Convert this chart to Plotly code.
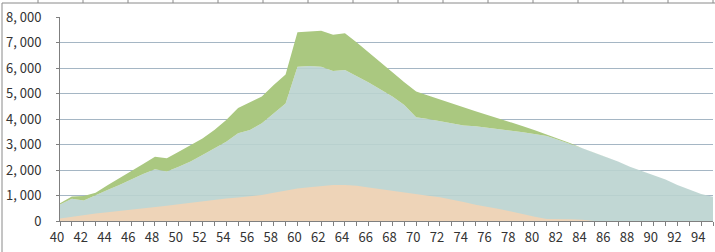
import plotly.graph_objects as go

ages = list(range(40, 96))

total_green = [700, 960, 980, 1110, 1400, 1670, 1970, 2240, 2520, 2460,
               2720, 2980, 3240, 3570, 3960, 4430, 4640, 4880, 5330, 5750,
               7400, 7430, 7460, 7300, 7360, 7000, 6620, 6220, 5830, 5440,
               5080, 4920, 4760, 4600, 4450, 4300, 4160, 4020, 3870, 3720,
               3560, 3400, 3230, 3050, 2850, 2680, 2520, 2330, 2130, 1960,
               1800, 1630, 1410, 1220, 1060, 950]

middle_blue = [650, 870, 800, 1020, 1220, 1410, 1630, 1840, 2030, 1940,
               2130, 2330, 2590, 2850, 3110, 3440, 3570, 3830, 4220, 4610,
               6050, 6080, 6050, 5880, 5920, 5690, 5430, 5160, 4880, 4550,
               4070, 4000, 3920, 3830, 3750, 3720, 3670, 3600, 3540, 3480,
               3410, 3330, 3180, 3000, 2850, 2680, 2520, 2330, 2130, 1960,
               1800, 1630, 1410, 1220, 1060, 950]

bottom_peach = [100, 170, 230, 290, 340, 390, 430, 490, 540, 600,
                660, 720, 770, 820, 880, 920, 960, 1020, 1110, 1190,
                1270, 1320, 1370, 1410, 1410, 1380, 1310, 1240, 1180, 1110,
                1050, 990, 930, 850, 750, 640, 560, 470, 370, 260,
                170, 80, 80, 70, 50, 0, 0, 0, 0, 0,
                0, 0, 0, 0, 0, 0]

y_ticks = [0, 1000, 2000, 3000, 4000, 5000, 6000, 7000, 8000]
y_tick_labels = ["0", "1, 000", "2, 000", "3, 000", "4, 000", "5, 000", "6, 000", "7, 000", "8, 000"]
x_ticks = list(range(40, 96, 2))

fig = go.Figure()
fig.add_trace(go.Scatter(x=ages, y=middle_blue, mode="lines", line=dict(width=0),
                         fill="tozeroy", fillcolor="rgba(186,211,207,0.9)", hoverinfo="skip"))
fig.add_trace(go.Scatter(x=ages, y=total_green, mode="lines", line=dict(width=0),
                         fill="tonexty", fillcolor="rgb(170,200,128)", hoverinfo="skip"))
fig.add_trace(go.Scatter(x=ages, y=bottom_peach, mode="lines", line=dict(width=0),
                         fill="tozeroy", fillcolor="rgb(238,212,184)", hoverinfo="skip"))

font_family = "Noto Sans CJK JP, Noto Sans, sans-serif"

fig.update_layout(
    width=715, height=252,
    margin=dict(l=60, r=2, t=17, b=31),
    paper_bgcolor="white", plot_bgcolor="white",
    showlegend=False,
    font=dict(family=font_family, size=12, color="#333333"),
    xaxis=dict(
        range=[40, 95], tickvals=x_ticks, ticktext=[str(v) for v in x_ticks],
        showgrid=False, zeroline=False,
        showline=True, linecolor="#7f7f7f", linewidth=1,
        ticks="outside", ticklen=4, tickcolor="#7f7f7f",
        minor=dict(dtick=1, tick0=40, ticks="outside", ticklen=4, tickcolor="#7f7f7f"),
        tickfont=dict(size=13, color="#333333"),
        ticklabelshift=-3,
    ),
    yaxis=dict(
        range=[0, 8000], tickvals=y_ticks, ticktext=y_tick_labels,
        showgrid=True, gridcolor="rgb(165,182,196)", gridwidth=1,
        zeroline=False,
        showline=True, linecolor="#7f7f7f", linewidth=1,
        ticks="outside", ticklen=3, tickcolor="#7f7f7f",
        tickfont=dict(size=13, color="#333333"),
        ticklabelstandoff=12,
    ),
)

# frame remnants at the top and left edges of the picture
shapes = [
    dict(type="line", xref="paper", yref="paper", x0=-58/653, x1=655/653,
         y0=1 + 14/204, y1=1 + 14/204, line=dict(color="#8a8a8a", width=1)),
    dict(type="line", xref="paper", yref="paper", x0=-58/653, x1=-58/653,
         y0=-31/204, y1=1 + 14/204, line=dict(color="#8a8a8a", width=1)),
]
for px in range(38, 715, 45):
    xp = (px - 60) / 653
    shapes.append(dict(type="line", xref="paper", yref="paper", x0=xp, x1=xp,
                       y0=1 + 14/204, y1=1 + 17/204, line=dict(color="#8a8a8a", width=1)))
fig.update_layout(shapes=shapes)

fig.write_html("out.html")
